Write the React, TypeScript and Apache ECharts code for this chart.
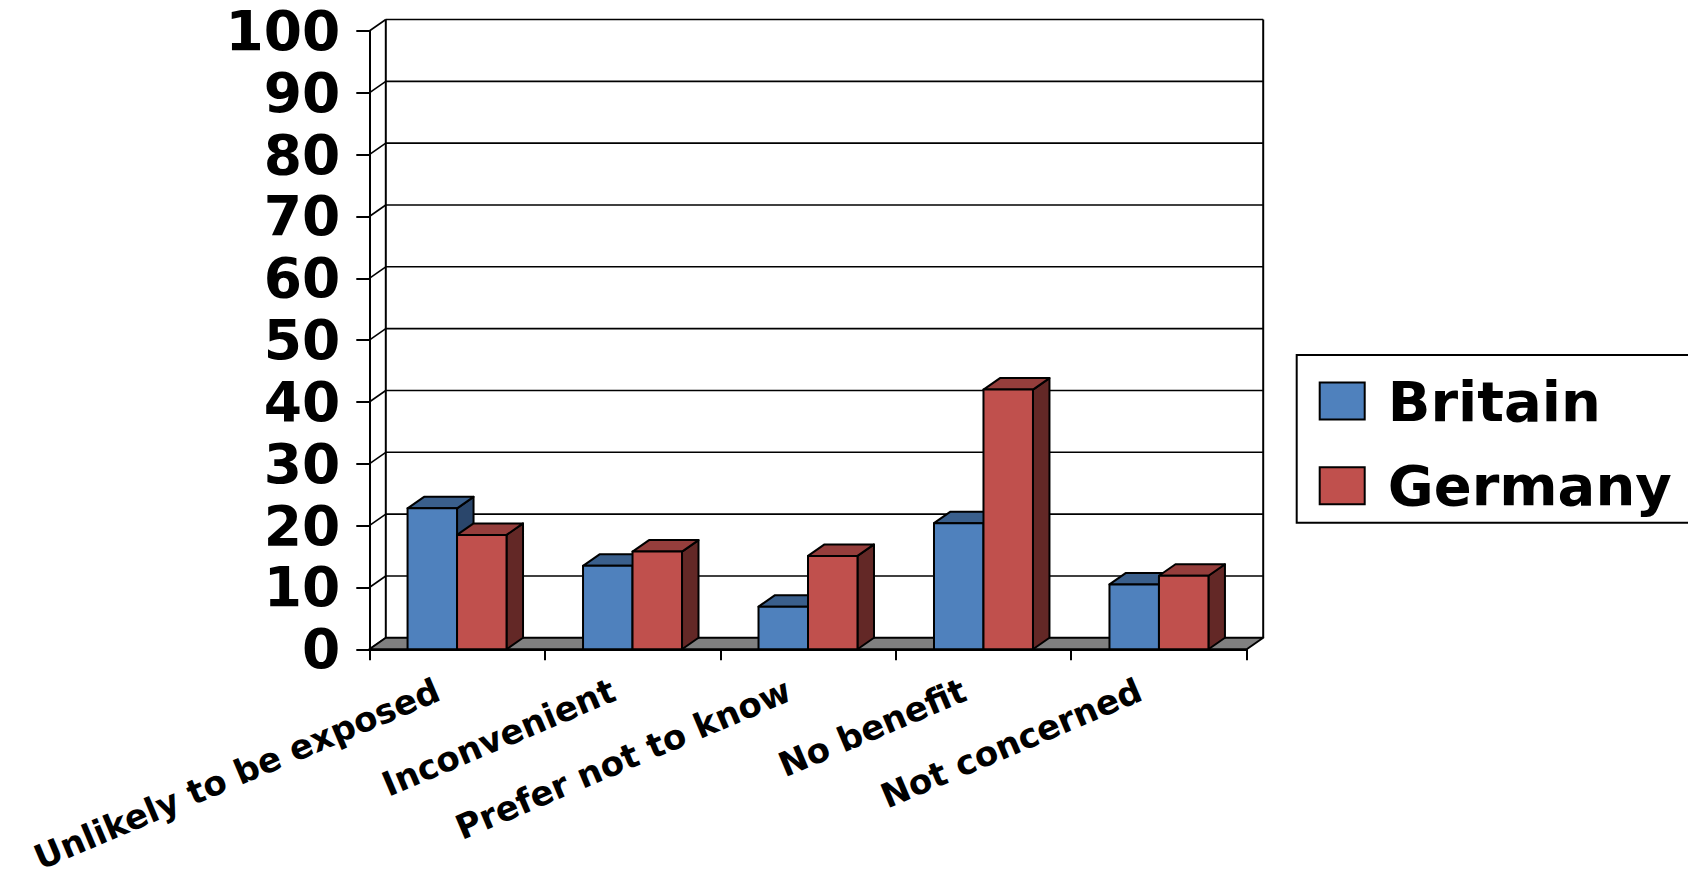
import React, { useEffect, useRef } from "react";
import * as echarts from "echarts";

const categories = [
  "Unlikely to be exposed",
  "Inconvenient",
  "Prefer not to know",
  "No benefit",
  "Not concerned",
];
const britain = [22.8, 13.5, 6.9, 20.4, 10.5];
const germany = [18.5, 15.8, 15.1, 42.0, 11.9];
const yTicks = [0, 10, 20, 30, 40, 50, 60, 70, 80, 90, 100];
const seriesNames = ["Britain", "Germany"];

const FONT = "'DejaVu Sans', 'Liberation Sans', sans-serif";
const DX = 16.5;
const DY = -11.5;
const BAR_FRAC = 0.282;

const COLORS = {
  Britain: { front: "#4F81BD", top: "#3A5F8C", side: "#2A466B" },
  Germany: { front: "#C0504D", top: "#953E3C", side: "#632826" },
};

export default function App() {
  const ref = useRef<HTMLDivElement>(null);

  useEffect(() => {
    document.body.style.margin = "0";
    const chart = echarts.init(ref.current as HTMLDivElement, null, { renderer: "svg" });

    const stroke = { stroke: "#000", lineWidth: 2, lineJoin: "round" };

    const makeBar = (name: string, values: number[], idx: number) => {
      const c = (COLORS as any)[name];
      return {
        type: "custom",
        name,
        silent: true,
        z: 5,
        itemStyle: { color: c.front, borderColor: "#000", borderWidth: 2 },
        data: values.map((v, i) => [i, v]),
        renderItem: (params: any, api: any) => {
          const cat = api.value(0);
          const val = api.value(1);
          const base = api.coord([cat, 0]);
          const tp = api.coord([cat, val]);
          const catW = api.size([1, 0])[0];
          const bw = catW * BAR_FRAC;
          const left = base[0] - bw + idx * bw;
          const right = left + bw;
          const yB = base[1];
          const yT = tp[1];
          return {
            type: "group",
            children: [
              {
                type: "polygon",
                shape: { points: [[right, yT], [right + DX, yT + DY], [right + DX, yB + DY], [right, yB]] },
                style: { fill: c.side, ...stroke },
              },
              {
                type: "polygon",
                shape: { points: [[left, yT], [left + DX, yT + DY], [right + DX, yT + DY], [right, yT]] },
                style: { fill: c.top, ...stroke },
              },
              {
                type: "rect",
                shape: { x: left, y: yT, width: bw, height: yB - yT },
                style: { fill: c.front, ...stroke },
              },
            ],
          };
        },
      };
    };

    const option: any = {
      animation: false,
      backgroundColor: "#fff",
      grid: {
        left: 369.3,
        top: 31,
        width: 877.4,
        height: 618.3,
        containLabel: false,
        outerBoundsMode: "none",
      },
      xAxis: {
        type: "category",
        data: categories,
        boundaryGap: true,
        axisLine: { show: true, lineStyle: { color: "#000", width: 2 } },
        axisTick: { show: true, alignWithLabel: false, length: 11, lineStyle: { color: "#000", width: 2 } },
        axisLabel: {
          interval: 0,
          rotate: 23,
          margin: 31,
          padding: [0, 21, 0, 0],
          color: "#000",
          fontFamily: FONT,
          fontWeight: "bold",
          fontSize: 34,
        },
        splitLine: { show: false },
      },
      yAxis: {
        type: "value",
        min: 0,
        max: 100,
        interval: 10,
        axisLine: { show: true, lineStyle: { color: "#000", width: 2 } },
        axisTick: { show: true, length: 13, lineStyle: { color: "#000", width: 2 } },
        axisLabel: {
          margin: 29,
          color: "#000",
          fontFamily: FONT,
          fontWeight: "bold",
          fontSize: 55,
        },
        splitLine: { show: false },
      },
      legend: {
        orient: "vertical",
        left: 1296.7,
        top: 355,
        padding: [18, 20, 9, 22],
        itemWidth: 45,
        itemHeight: 37,
        itemGap: 28.7,
        borderColor: "#000",
        borderWidth: 2,
        backgroundColor: "#fff",
        selectedMode: false,
        data: seriesNames.map((n) => ({
          name: n,
          icon: "rect",
          itemStyle: { color: (COLORS as any)[n].front, borderColor: "#000", borderWidth: 2 },
        })),
        formatter: "{t|{name}}",
        textStyle: {
          rich: {
            t: {
              fontFamily: FONT,
              fontWeight: "bold",
              fontSize: 56,
              lineHeight: 56,
              color: "#000",
              padding: [0, 0, 0, 18],
            },
          },
        },
      },
      series: [
        {
          type: "custom",
          name: "wall",
          silent: true,
          z: 1,
          data: yTicks.map((v) => [0, v]),
          renderItem: (params: any, api: any) => {
            const cs = params.coordSys;
            const v = api.value(1);
            const y = api.coord([0, v])[1];
            const xL = cs.x;
            const xR = cs.x + cs.width;
            return {
              type: "group",
              children: [
                {
                  type: "line",
                  shape: { x1: xL + DX, y1: y + DY, x2: xR + DX, y2: y + DY },
                  style: { stroke: "#000", lineWidth: 1.6 },
                },
                {
                  type: "line",
                  shape: { x1: xL, y1: y, x2: xL + DX, y2: y + DY },
                  style: { stroke: "#000", lineWidth: 1.6 },
                },
              ],
            };
          },
        },
        {
          type: "custom",
          name: "frame",
          silent: true,
          z: 2,
          data: [[0, yTicks[0]]],
          renderItem: (params: any, api: any) => {
            const cs = params.coordSys;
            const y0 = api.coord([0, yTicks[0]])[1];
            const yTop = api.coord([0, yTicks[yTicks.length - 1]])[1];
            const xL = cs.x;
            const xR = cs.x + cs.width;
            return {
              type: "group",
              children: [
                {
                  type: "line",
                  shape: { x1: xL + DX, y1: y0 + DY, x2: xL + DX, y2: yTop + DY },
                  style: { stroke: "#000", lineWidth: 2 },
                },
                {
                  type: "line",
                  shape: { x1: xR + DX, y1: y0 + DY, x2: xR + DX, y2: yTop + DY },
                  style: { stroke: "#000", lineWidth: 2 },
                },
                {
                  type: "polygon",
                  shape: { points: [[xL, y0], [xR, y0], [xR + DX, y0 + DY], [xL + DX, y0 + DY]] },
                  style: { fill: "#808080", stroke: "#000", lineWidth: 2, lineJoin: "round" },
                },
              ],
            };
          },
        },
        makeBar("Britain", britain, 0),
        makeBar("Germany", germany, 1),
      ],
    };

    chart.setOption(option);
    return () => {
      chart.dispose();
    };
  }, []);

  return <div ref={ref} style={{ width: 1688, height: 882, overflow: "hidden" }} />;
}
